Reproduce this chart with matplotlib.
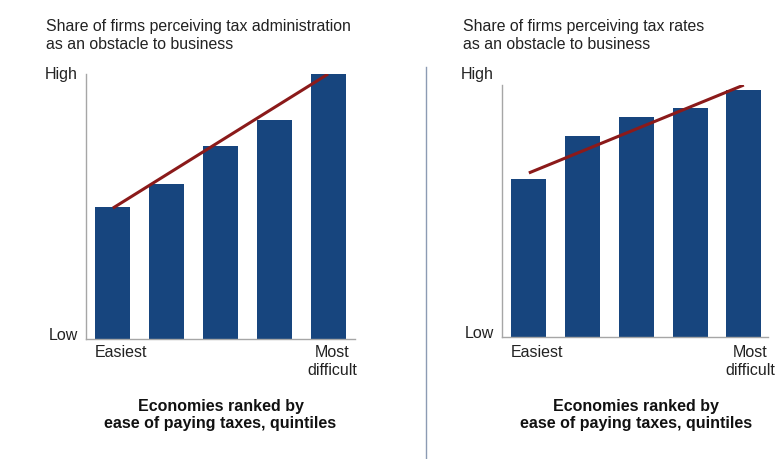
import numpy as np
import matplotlib.pyplot as plt
from matplotlib.lines import Line2D

plt.rcParams['font.family'] = ['Liberation Sans', 'DejaVu Sans']

quintiles = [1, 2, 3, 4, 5]
admin_share = [0.498, 0.585, 0.728, 0.826, 1.0]
rates_share = [0.627, 0.798, 0.873, 0.909, 0.980]
# trend lines, value at first and last quintile
admin_trend = [0.494, 1.0]
rates_trend = [0.651, 1.0]

titles = ["Share of firms perceiving tax administration\nas an obstacle to business",
          "Share of firms perceiving tax rates\nas an obstacle to business"]
xlabel = "Economies ranked by\nease of paying taxes, quintiles"

bar_color = '#17457e'
line_color = '#8b1a1a'
spine_color = '#a6a6a6'
txt = '#222222'

fig = plt.figure(figsize=(7.77, 4.60), dpi=100)

panels = [
    dict(rect=[86/777, 1-340/460, 269/777, 265/460], vals=admin_share, trend=admin_trend,
         title=titles[0], tx=46/777, xlim=(0.5, 5.5), low_y=335, most_x=357),
    dict(rect=[502/777, 1-338/460, 266/777, 252/460], vals=rates_share, trend=rates_trend,
         title=titles[1], tx=463/777, xlim=(0.5, 5.45), low_y=333, most_x=775),
]

for p in panels:
    ax = fig.add_axes(p['rect'])
    ax.bar(quintiles, p['vals'], width=0.65, color=bar_color, zorder=2)
    ax.plot([quintiles[0], quintiles[-1]], p['trend'], color=line_color, lw=2.2,
            zorder=3, solid_capstyle='butt')
    ax.set_xlim(*p['xlim'])
    ax.set_ylim(0, 1)
    for s in ['top', 'right']:
        ax.spines[s].set_visible(False)
    for s in ['left', 'bottom']:
        ax.spines[s].set_color(spine_color)
        ax.spines[s].set_linewidth(1.0)
    ax.set_xticks([])
    ax.set_yticks([])

    ax_left = p['rect'][0] * 777
    fig.text((ax_left - 8) / 777, 1 - 75/460, 'High', ha='right', va='center',
             fontsize=11.5, color=txt)
    fig.text((ax_left - 8) / 777, 1 - p['low_y']/460, 'Low', ha='right', va='center',
             fontsize=11.5, color=txt)
    fig.text((ax_left + 9) / 777, 1 - 345/460, 'Easiest', ha='left', va='top',
             fontsize=11.5, color=txt)
    fig.text(p['most_x'] / 777, 1 - 345/460, 'Most\ndifficult', ha='right', va='top',
             fontsize=11.5, color=txt, multialignment='center', linespacing=1.25)
    cx = ax.transData.transform((3, 0))[0] / fig.bbox.width
    fig.text(cx, 1 - 399/460, xlabel, ha='center', va='top',
             fontsize=11.5, fontweight='bold', color='#111111', linespacing=1.2)

    fig.text(p['tx'], 1 - 19/460, p['title'], ha='left', va='top', fontsize=11.4,
             color=txt, linespacing=1.25)

fig.add_artist(Line2D([426/777, 426/777], [0, 1 - 68/460], transform=fig.transFigure,
                      color='#8c9bb3', lw=1.0))

fig.savefig('out.png', dpi=100)
